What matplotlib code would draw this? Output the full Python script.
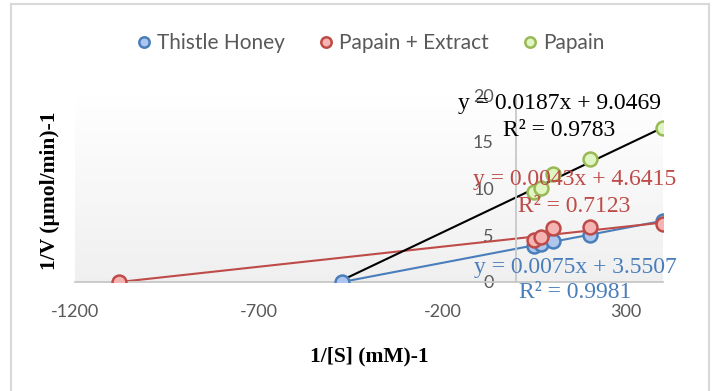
import numpy as np
import matplotlib.pyplot as plt
from matplotlib.patches import Rectangle

plt.rcParams['axes.unicode_minus'] = False

# Lineweaver-Burk data
x_inv_s = [50, 67, 100, 200, 400]          # 1/[S]
thistle = [3.9, 4.1, 4.4, 5.0, 6.5]
papain_extract = [4.5, 4.8, 5.8, 5.9, 6.2]
papain = [9.6, 10.1, 11.5, 13.2, 16.5]
thistle_xint = -473
extract_xint = -1079

# trendline equations shown on the chart
slopes = [0.0075, 0.0043, 0.0187]
intercepts = [3.5507, 4.6415, 9.0469]
r2 = [0.9981, 0.7123, 0.9783]
trend_start = [thistle_xint, extract_xint, thistle_xint]

names = ["Thistle Honey", "Papain + Extract", "Papain"]
edge_cols = ["#4a7ebb", "#be4b48", "#98b954"]
face_cols = ["#aec6ee", "#f5b3b2", "#dff5c2"]
line_cols = ["#4a7ebb", "#be4b48", "black"]
xticks = [-1200, -700, -200, 300]
yticks = [0, 5, 10, 15, 20]

fig = plt.figure(figsize=(7.18, 3.91), dpi=100)
ax = fig.add_axes([75/718, 1-282/391, (663-75)/718, (282-95)/391])
ax.set_xlim(-1200, 400)
ax.set_ylim(0, 20)

# gradient plot area
grad = np.linspace(1.0, 0.94, 100).reshape(-1, 1)
ax.imshow(np.dstack([grad, grad, grad]), extent=[-1200, 400, 0, 20],
          aspect='auto', zorder=0, interpolation='bilinear')

# trendlines
for i in range(3):
    xx = np.array([trend_start[i], x_inv_s[-1]])
    ax.plot(xx, slopes[i]*xx + intercepts[i], color=line_cols[i], lw=1.5, zorder=2)

series_x = [[thistle_xint] + x_inv_s, [extract_xint] + x_inv_s, x_inv_s]
series_y = [[0] + thistle, [0] + papain_extract, papain]
handles = []
for i in range(3):
    h, = ax.plot(series_x[i], series_y[i], 'o', ms=10, mfc=face_cols[i],
                 mec=edge_cols[i], mew=1.8, ls='none', zorder=3, label=names[i])
    handles.append(h)

# axes styling
for s in ['top', 'right']:
    ax.spines[s].set_visible(False)
ax.spines['left'].set_position(('data', 0))
ax.spines['left'].set_color('#c8c8c8')
ax.spines['bottom'].set_color('#c8c8c8')
ax.spines['left'].set_linewidth(1.3)
ax.spines['bottom'].set_linewidth(1.3)
ax.set_xticks(xticks)
ax.set_yticks(yticks)
ax.tick_params(length=0, labelsize=13, labelcolor='#595959')
ax.tick_params(axis='x', pad=16)
ax.tick_params(axis='y', pad=16)
for lab in ax.get_xticklabels() + ax.get_yticklabels():
    lab.set_family('Lato')

ax.set_xlabel("1/[S] (mM)-1", family='Liberation Serif', weight='bold', fontsize=15.5, labelpad=19)
fig.text(50/718, 1-191/391, "1/V (µmol/min)-1", family='Liberation Serif', weight='bold',
         fontsize=15.5, rotation=90, ha='center', va='center')

# trendline labels
eq_pos = [(575, 268, 575, 293), (575, 180, 574, 207), (560, 104, 559, 130)]
for i in range(3):
    ex, ey, rx, ry = eq_pos[i]
    fig.text(ex/718, 1-ey/391, "y = %.4fx + %.4f" % (slopes[i], intercepts[i]),
             family='Liberation Serif', fontsize=17, color=line_cols[i],
             ha='center', va='center', zorder=5)
    fig.text(rx/718, 1-ry/391, "R² = %.4f" % r2[i],
             family='Liberation Serif', fontsize=17, color=line_cols[i],
             ha='center', va='center', zorder=5)

leg = fig.legend(handles=handles, loc='center', bbox_to_anchor=(368/718, 1-43/391), ncol=3,
                 frameon=False, handletextpad=0.0, handlelength=1.2, columnspacing=1.4,
                 markerscale=0.75, prop={'family': 'Lato', 'size': 15})
for t in leg.get_texts():
    t.set_color('#595959')

# chart border
fig.patches.append(Rectangle((11/718, -0.1), (709-11)/718, 1.1 - 4/391, transform=fig.transFigure,
                             fill=False, ec='#d9d9d9', lw=1.5))

fig.savefig("out.png", dpi=100)
